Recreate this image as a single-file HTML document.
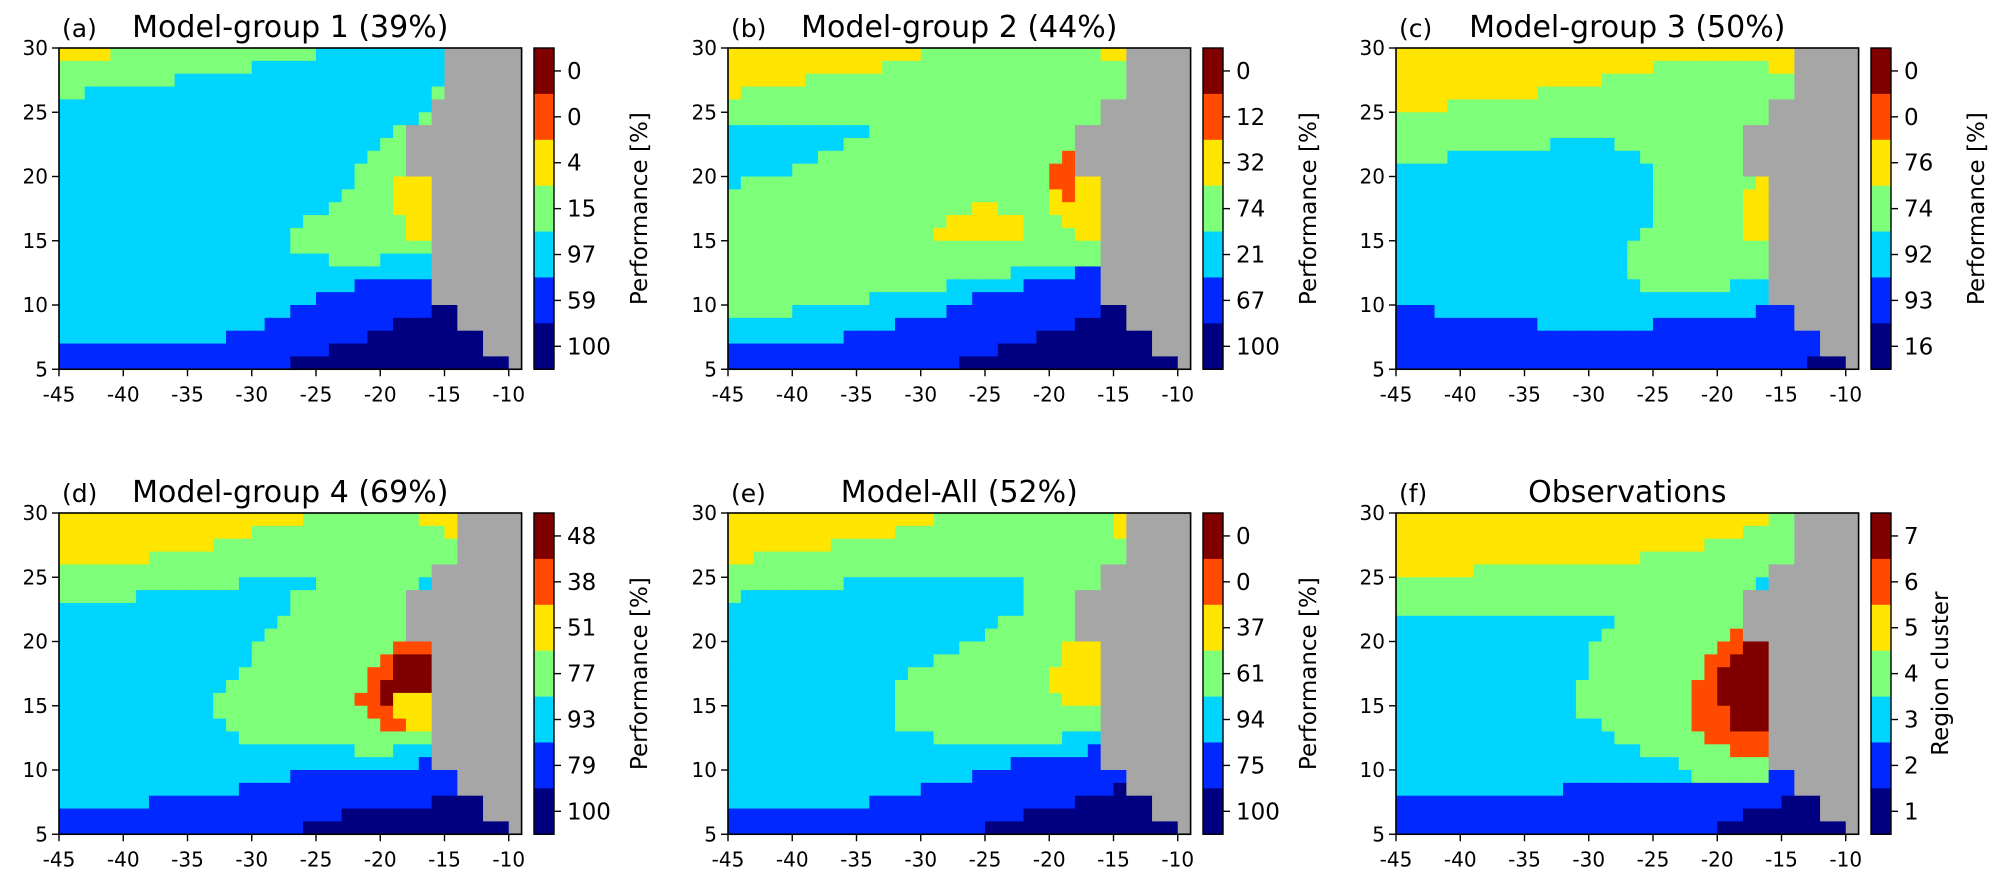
<!DOCTYPE html>
<html><head><meta charset="utf-8"><style>
html,body{margin:0;padding:0;background:#fff;}
svg{display:block;font-family:"DejaVu Sans","Liberation Sans",sans-serif;}
</style></head><body>
<svg id="fig" width="1998" height="881" viewBox="0 0 1998 881" xmlns="http://www.w3.org/2000/svg"></svg>
<script>
// ---- data ----
const xTicks=[-45,-40,-35,-30,-25,-20,-15,-10];
const yTicks=[5,10,15,20,25,30];
const titles=["Model-group 1 (39%)","Model-group 2 (44%)","Model-group 3 (50%)","Model-group 4 (69%)","Model-All (52%)","Observations"];
const letters=["(a)","(b)","(c)","(d)","(e)","(f)"];
const cbLabelsA=["0","0","4","15","97","59","100"];
const cbLabelsB=["0","12","32","74","21","67","100"];
const cbLabelsC=["0","0","76","74","92","93","16"];
const cbLabelsD=["48","38","51","77","93","79","100"];
const cbLabelsE=["0","0","37","61","94","75","100"];
const cbLabelsF=["7","6","5","4","3","2","1"];
const cbTitles=["Performance [%]","Performance [%]","Performance [%]","Performance [%]","Performance [%]","Region cluster"];
// grids: rows from lat 30 (top) to 5; runs "cluster:count", remainder = land (0)
const gridA=["5:4 4:16 3:10","4:15 3:15","4:9 3:21","4:2 3:27 4:1","3:29","3:28 4:1","3:26 4:1","3:25 4:2","3:24 4:3","3:23 4:4","3:23 4:3 5:3","3:22 4:4 5:3","3:21 4:5 5:3","3:19 4:8 5:2","3:18 4:9 5:2","3:18 4:11","3:21 4:4 3:4","3:29","3:23 2:6","3:20 2:9","3:18 2:11 1:2","3:16 2:10 1:5","3:13 2:11 1:9","2:21 1:12","2:18 1:17"];
const gridB=["5:15 4:14 5:2","5:12 4:19","5:6 4:25","5:1 4:30","4:29","4:29","3:11 4:16","3:9 4:18","3:7 4:19 6:1","3:5 4:20 6:2","3:1 4:24 6:2 5:2","4:25 5:1 6:1 5:2","4:19 5:2 4:4 5:4","4:17 5:6 4:3 5:3","4:16 5:7 4:4 5:2","4:29","4:29","4:22 3:5 2:2","4:17 3:6 2:6","4:11 3:8 2:10","4:5 3:12 2:12 1:2","3:13 2:14 1:4","3:9 2:15 1:9","2:21 1:12","2:18 1:17"];
const gridC=["5:31","5:20 4:9 5:2","5:16 4:15","5:11 4:20","5:4 4:25","4:29","4:27","4:12 3:5 4:10","4:4 3:15 4:8","3:20 4:7","3:20 4:8 5:1","3:20 4:7 5:2","3:20 4:7 5:2","3:20 4:7 5:2","3:19 4:8 5:2","3:18 4:11","3:18 4:11","3:18 4:11","3:19 4:7 3:3","3:29","2:3 3:25 2:3","2:11 3:9 2:11","2:33","2:33","2:32 1:3"];
const gridD=["5:19 4:9 5:3","5:15 4:15 5:1","5:12 4:19","5:7 4:24","4:29","4:14 3:6 4:8 3:1","4:6 3:12 4:9","3:18 4:9","3:17 4:10","3:16 4:11","3:15 4:11 6:3","3:15 4:10 6:1 7:3","3:14 4:10 6:2 7:3","3:13 4:11 6:1 7:4","3:12 4:11 6:2 7:1 5:3","3:12 4:12 6:2 5:3","3:13 4:12 6:2 5:2","3:14 4:15","3:23 4:3 3:3","3:28 2:1","3:18 2:13","3:14 2:17","3:7 2:22 1:4","2:22 1:11","2:19 1:16"];
const gridE=["5:16 4:14 5:1","5:13 4:17 5:1","5:8 4:23","5:2 4:29","4:29","4:9 3:14 4:6","4:1 3:22 4:4","3:23 4:4","3:21 4:6","3:20 4:7","3:18 4:8 5:3","3:16 4:10 5:3","3:14 4:11 5:4","3:13 4:12 5:4","3:13 4:13 5:3","3:13 4:16","3:13 4:16","3:16 4:10 3:3","3:28 2:1","3:22 2:7","3:19 2:12","3:15 2:15 1:1","3:11 2:16 1:6","2:23 1:10","2:20 1:15"];
const gridF=["5:29 4:2","5:27 4:4","5:24 4:7","5:19 4:12","5:6 4:23","4:28 3:1","4:27","4:27","3:17 4:10","3:16 4:10 6:1","3:15 4:10 6:2 7:2","3:15 4:9 6:2 7:3","3:15 4:9 6:1 7:4","3:14 4:9 6:2 7:4","3:14 4:9 6:2 7:4","3:14 4:9 6:3 7:3","3:16 4:7 6:3 7:3","3:17 4:7 6:5","3:19 4:7 6:3","3:22 4:7","3:23 4:6 2:2","3:13 2:18","2:30 1:3","2:27 1:6","2:25 1:10"];

// ---- rendering ----
const grids=[gridA,gridB,gridC,gridD,gridE,gridF];
const cbLabels=[cbLabelsA,cbLabelsB,cbLabelsC,cbLabelsD,cbLabelsE,cbLabelsF];
const COLORS=["#a6a6a6","#000080","#0028ff","#00d5ff","#7dff7a","#ffe500","#ff4a00","#800000"];
const NS="http://www.w3.org/2000/svg";
const svg=document.getElementById('fig');
const PX=[59,728,1396], PY=[48,513];
const CELL=12.85, NC=36, NR=25, LON0=-45, LAT1=30;
const W=NC*CELL, H=NR*CELL;
function el(tag,attrs,parent){const e=document.createElementNS(NS,tag);for(const k in attrs)e.setAttribute(k,attrs[k]);(parent||svg).appendChild(e);return e;}
function expand(s){const out=[];s.split(' ').forEach(p=>{const [c,n]=p.split(':').map(Number);for(let i=0;i<n;i++)out.push(c);});while(out.length<NC)out.push(0);return out;}

for(let p=0;p<6;p++){
  const x0=PX[p%3], y0=PY[Math.floor(p/3)];
  const xs=lon=>x0+(lon-LON0)*CELL;
  const ys=lat=>y0+(LAT1-lat)*CELL;
  const g=el('g',{});
  
  
  const grid=grids[p];
  for(let r=0;r<NR;r++){
    const row=expand(grid[r]);
    for(let c=0;c<NC;c++){
      const rc=el('rect',{x:xs(LON0+c).toFixed(2),y:ys(LAT1-r).toFixed(2),width:(CELL+0.6).toFixed(2),height:(CELL+0.6).toFixed(2),fill:COLORS[row[c]]},g);
      
      
    }
  }
  const fr=el('rect',{x:x0,y:y0,width:W,height:H,fill:'none',stroke:'#000','stroke-width':1.6},g);
  
  
  xTicks.forEach(v=>{
    const x=xs(v);
    el('line',{x1:x,x2:x,y1:y0+H,y2:y0+H+7,stroke:'#000','stroke-width':1.4},g);
    const t=el('text',{x:x,y:y0+H+32,'font-size':20,'text-anchor':'middle'},g);
    t.textContent=v;
    
    
  });
  yTicks.forEach(v=>{
    const y=ys(v);
    el('line',{x1:x0-7,x2:x0,y1:y,y2:y,stroke:'#000','stroke-width':1.4},g);
    const t=el('text',{x:x0-11,y:y+7,'font-size':20,'text-anchor':'end'},g);
    t.textContent=v;
    
    
  });
  const lt=el('text',{x:x0+3,y:y0-11,'font-size':25},g);
  lt.textContent=letters[p];
  
  
  const tt=el('text',{x:x0+W/2,y:y0-11,'font-size':30,'text-anchor':'middle'},g);
  tt.textContent=titles[p];
  
  
  // colorbar
  const cx=x0+475, cw=20, seg=H/7;
  const cb=el('g',{},g);
  
  
  for(let k=0;k<7;k++){
    el('rect',{x:cx,y:(y0+k*seg).toFixed(2),width:cw,height:(seg+0.6).toFixed(2),fill:COLORS[7-k]},cb);
    const ty=y0+(k+0.5)*seg;
    el('line',{x1:cx+cw,x2:cx+cw+7,y1:ty,y2:ty,stroke:'#000','stroke-width':1.4},cb);
    const t=el('text',{x:cx+cw+13,y:ty+8,'font-size':23},cb);
    t.textContent=cbLabels[p][k];
    
    
  }
  el('rect',{x:cx,y:y0,width:cw,height:H,fill:'none',stroke:'#000','stroke-width':1.4},cb);
  const lx=cx+(p===5?77:113), ly=y0+H/2;
  const ct=el('text',{x:lx,y:ly,'font-size':23,'text-anchor':'middle',transform:`rotate(-90 ${lx} ${ly})`},cb);
  ct.textContent=cbTitles[p];
  
  
}
</script>
</body></html>
